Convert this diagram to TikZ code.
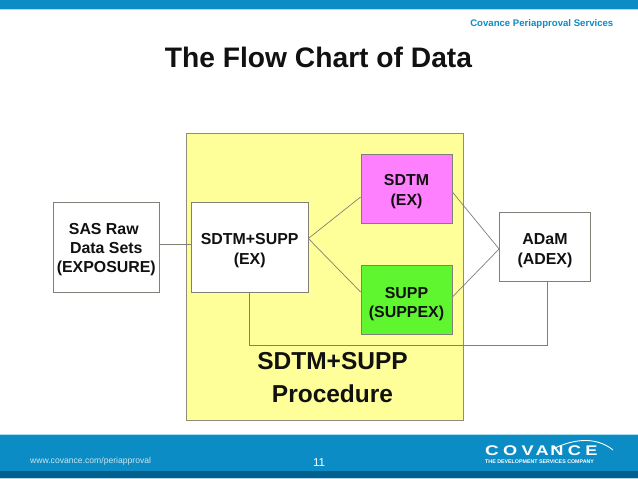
\documentclass[tikz,border=0pt]{standalone}
\usepackage{fontspec}
\usetikzlibrary{calc}
\setmainfont{Liberation Sans}
\definecolor{band}{HTML}{0B8CC4}
\definecolor{banddark}{HTML}{035F8E}
\definecolor{bandlight}{HTML}{A9DDF0}
\definecolor{urlcol}{HTML}{CDE6F0}
\definecolor{panel}{HTML}{FFFF99}
\definecolor{edge}{HTML}{8E8E78}
\definecolor{boxedge}{HTML}{808078}
\definecolor{pinkbox}{HTML}{FF80FF}
\definecolor{greenbox}{HTML}{5FF52F}
\definecolor{ink}{HTML}{111111}
\newcommand{\liftline}[1]{\rule{0pt}{#1pt}}
\tikzset{
 box/.style={draw=boxedge,line width=0.8pt,inner sep=0pt,align=center,text=ink,font=\fontsize{15.9}{19.3}\selectfont\bfseries},
 link/.style={draw=boxedge,line width=0.7pt},
}
\begin{document}
\begin{tikzpicture}[x=1pt,y=-1pt]
\useasboundingbox (0,0) rectangle (638,479);
\fill[white] (0,0) rectangle (638,479);
% bands
\fill[band] (0,0) rectangle (638,9);
\fill[bandlight] (0,9) rectangle (638,10);
\fill[bandlight] (0,433.5) rectangle (638,435);
\fill[band] (0,435) rectangle (638,471);
\fill[banddark] (0,471) rectangle (638,478);
\fill[bandlight] (0,478) rectangle (638,479);
% header and title
\node[anchor=east,inner sep=0pt,text=band,font=\fontsize{9.6}{12}\selectfont\bfseries] (hdr) at (613.5,24) {Covance Periapproval Services};
\node[anchor=center,inner sep=0pt,text=ink,font=\fontsize{28.2}{32}\selectfont\bfseries] (title) at (318.5,57) {The Flow Chart of Data};
% panel
\node[draw=edge,line width=0.8pt,fill=panel,minimum width=277pt,minimum height=287pt,inner sep=0pt] (panel) at (324.5,276.5) {};
% boxes
\node[box,fill=white,minimum width=106pt,minimum height=90pt] (raw) at (106.3,247) {\liftline{16}\hspace*{-5pt}SAS Raw\\Data Sets\\(EXPOSURE)};
\node[box,fill=white,minimum width=116.5pt,minimum height=90pt] (mix) at (249.7,247) {\liftline{18}SDTM+SUPP\\(EX)};
\node[box,fill=pinkbox,minimum width=91pt,minimum height=69pt] (sdtm) at (406.5,188.5) {\liftline{17}SDTM\\(EX)};
\node[box,fill=greenbox,minimum width=91pt,minimum height=69pt] (supp) at (406.5,300) {\liftline{19}SUPP\\(SUPPEX)};
\node[box,fill=white,minimum width=91pt,minimum height=69pt] (adam) at (545,246.5) {\liftline{19}ADaM\\(ADEX)};
% connectors
\draw[link] ($(raw.east)+(0,-3)$) -- ($(mix.west)+(0,-3)$);
\draw[link] ($(mix.east)+(0,-8.5)$) -- ($(sdtm.west)+(0,8.5)$);
\draw[link] ($(mix.east)+(0,-8.5)$) -- ($(supp.west)+(0,-8)$);
\draw[link] ($(sdtm.east)+(0,3.5)$) -- ($(adam.west)+(0,2.5)$);
\draw[link] ($(supp.east)+(0,-3)$) -- ($(adam.west)+(0,2.5)$);
\draw[link] (mix.south) |- (400,345.5) -| ($(adam.south)+(2.7,0)$);
% panel label
\node[inner sep=0pt,align=center,text=ink,font=\fontsize{24.5}{33}\selectfont\bfseries] (plabel) at (332.5,378) {SDTM+SUPP\\Procedure};
% footer
\node[anchor=west,inner sep=0pt,text=urlcol,font=\fontsize{8.6}{10}\selectfont] (url) at (30,461) {www.covance.com/periapproval};
\node[inner sep=0pt,text=white,font=\fontsize{11.5}{13}\selectfont] (page) at (319,463) {11};
\node[anchor=west,inner sep=0pt,text=white,font=\fontsize{14}{15}\selectfont\bfseries] (logo) at (485,451) {\scalebox{1.35}[1]{C}\hspace{4.3pt}\scalebox{1.3}[1]{O}\hspace{4.3pt}\scalebox{1.3}[1]{V}\hspace{1.8pt}\scalebox{1.3}[1]{A}\hspace{1.8pt}\scalebox{1.3}[1]{N}\hspace{4.3pt}\scalebox{1.3}[1]{C}\hspace{4.3pt}\scalebox{1.3}[1]{E}};
\node[anchor=west,inner sep=0pt,text=white,font=\fontsize{5.3}{6}\selectfont\bfseries] (tag) at (485,462) {THE DEVELOPMENT SERVICES COMPANY};
\draw[white,line width=0.9pt] (553,449) .. controls (575,438) and (597,437) .. (613,450);
\end{tikzpicture}
\end{document}
